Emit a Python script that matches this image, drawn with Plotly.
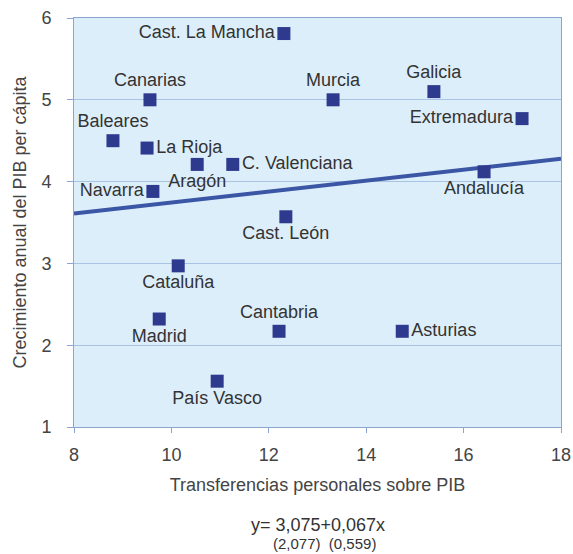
import plotly.graph_objects as go

regions = ['Cast. La Mancha', 'Canarias', 'Baleares', 'La Rioja', 'Aragón', 'C. Valenciana',
           'Navarra', 'Murcia', 'Galicia', 'Extremadura', 'Andalucía', 'Cast. León',
           'Cataluña', 'Madrid', 'Cantabria', 'Asturias', 'País Vasco']
transfers = [12.31, 9.56, 8.80, 9.50, 10.53, 11.26, 9.62, 13.32, 15.39, 17.20, 16.42,
             12.35, 10.14, 9.75, 12.21, 14.74, 10.94]
growth = [5.81, 5.00, 4.50, 4.41, 4.21, 4.21, 3.88, 5.00, 5.10, 4.77, 4.12, 3.57,
          2.97, 2.32, 2.17, 2.17, 1.56]
label_pos = ['middle left', 'top center', 'top center', 'middle right', 'bottom center',
             'middle right', 'middle left', 'top center', 'top center', 'middle left',
             'bottom center', 'bottom center', 'bottom center', 'bottom center',
             'top center', 'middle right', 'bottom center']

# fitted line y = 3,075 + 0,067x, read at the axis ends
trend_x = [8, 18]
trend_y = [3.61, 4.28]

navy = '#2e3a8e'
text_col = '#333333'
axis_col = '#8aa6d0'

fig = go.Figure()

fig.add_trace(go.Scatter(
    x=trend_x, y=trend_y, mode='lines',
    line=dict(color='#3b56a5', width=4),
    hoverinfo='skip', showlegend=False
))

fig.add_trace(go.Scatter(
    x=transfers, y=growth, mode='markers+text',
    text=regions, textposition=label_pos,
    textfont=dict(size=18, color=text_col),
    marker=dict(symbol='square', size=13, color=navy),
    showlegend=False
))

fig.update_xaxes(
    range=[8, 18], dtick=2, showgrid=False, zeroline=False, automargin=False,
    showline=True, linecolor=axis_col, linewidth=1, mirror=True,
    ticks='outside', ticklen=5, tickcolor=axis_col, ticklabelstandoff=6,
    tickfont=dict(size=18, color='#444444'),
    title=dict(text='Transferencias personales sobre PIB',
               font=dict(size=18, color='#444444'), standoff=14)
)
fig.update_yaxes(
    range=[1, 6], dtick=1, showgrid=True, gridcolor='#a9c3e3', gridwidth=1,
    zeroline=False, showline=True, linecolor=axis_col, linewidth=1, mirror=True,
    automargin=False, ticks='outside', ticklen=6, tickcolor=axis_col,
    ticklabelstandoff=12, tickfont=dict(size=18, color='#444444'),
    title=dict(text='Crecimiento anual del PIB per cápita',
               font=dict(size=18, color='#444444'), standoff=10)
)

fig.add_annotation(text='y= 3,075+0,067x', xref='paper', yref='paper',
                   x=0.5, y=-0.24, yanchor='middle', showarrow=False,
                   font=dict(size=18, color=text_col))
fig.add_annotation(text='(2,077)  (0,559)', xref='paper', yref='paper',
                   x=0.515, y=-0.284, yanchor='middle', showarrow=False,
                   font=dict(size=15, color=text_col))

fig.update_layout(
    width=573, height=554,
    margin=dict(l=74, r=12, t=18, b=127),
    plot_bgcolor='#ddeefb', paper_bgcolor='white',
    font=dict(family='Liberation Sans, Arial, sans-serif')
)

# drop the default 8px body margin so the figure fills the window
fig.write_html('out.html', config={'displayModeBar': False},
               post_script="document.body.style.margin='0';document.body.style.overflow='hidden';")
